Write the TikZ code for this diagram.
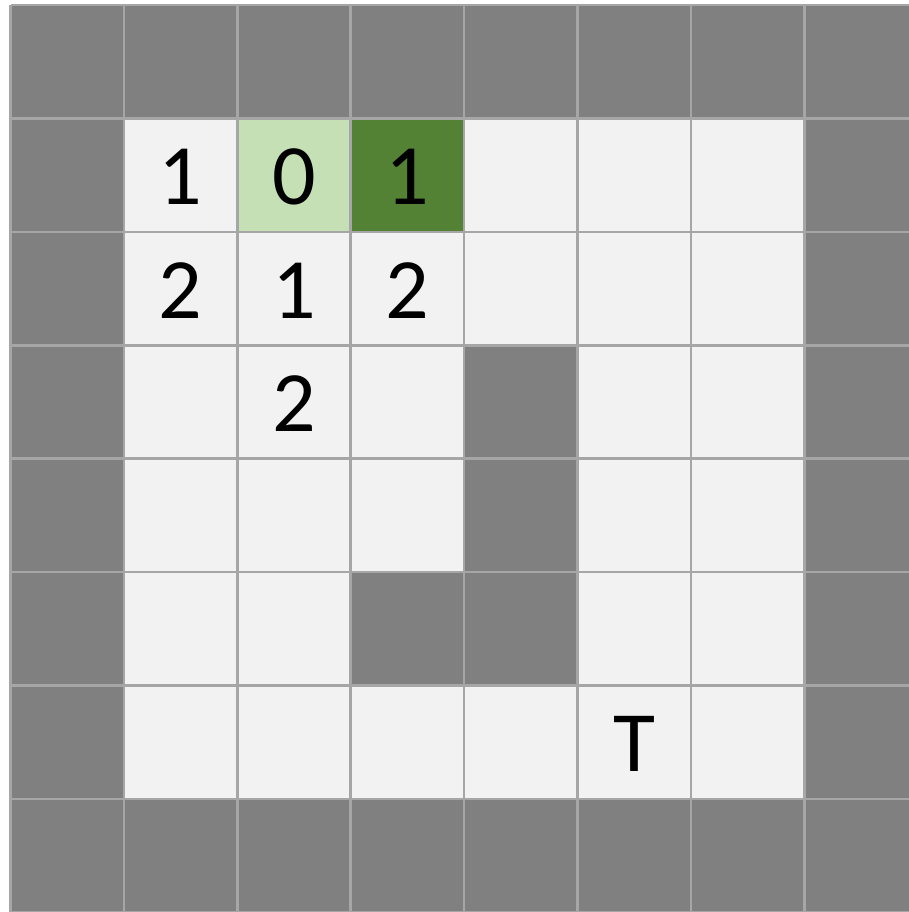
\documentclass[tikz,border=0pt]{standalone}
\usepackage{fontspec}
\setmainfont{Carlito}
\definecolor{wall}{HTML}{808080}
\definecolor{free}{HTML}{F2F2F2}
\definecolor{gridc}{HTML}{A6A6A6}
\definecolor{startc}{HTML}{C5E0B4}
\definecolor{curc}{HTML}{548235}
\begin{document}
\begin{tikzpicture}[x=1pt,y=-1pt,
  cellw/.store in=\cw,
  lbl/.style={anchor=base,font=\fontsize{86}{86}\selectfont,text=black,inner sep=0pt}]
\useasboundingbox (0,0) rectangle (908,912);
\def\cs{113.4}
\def\ox{10.5}
\def\oy{5}
% background walls
\fill[wall] (\ox,\oy) rectangle ({\ox+8*\cs},{\oy+8*\cs});
% free cells rows 1..6 cols 1..6
\fill[free] ({\ox+\cs},{\oy+\cs}) rectangle ({\ox+7*\cs},{\oy+7*\cs});
% inner walls
\foreach \r/\c in {3/4,4/4,5/3,5/4}{
  \fill[wall] ({\ox+\c*\cs},{\oy+\r*\cs}) rectangle ({\ox+(\c+1)*\cs},{\oy+(\r+1)*\cs});
}
\fill[startc] ({\ox+2*\cs},{\oy+\cs}) rectangle ({\ox+3*\cs},{\oy+2*\cs});
\fill[curc] ({\ox+3*\cs},{\oy+\cs}) rectangle ({\ox+4*\cs},{\oy+2*\cs});
% grid
\foreach \i in {0,...,8}{
  \draw[gridc,line width=2.6pt] ({\ox+\i*\cs},\oy) -- ({\ox+\i*\cs},{\oy+8*\cs});
  \draw[gridc,line width=2.6pt] (\ox,{\oy+\i*\cs}) -- ({\ox+8*\cs},{\oy+\i*\cs});
}
% labels
\foreach \r/\c/\t/\n in {1/1/1/a,1/2/0/b,1/3/1/c,2/1/2/d,2/2/1/e,2/3/2/f,3/2/2/g,6/5/T/h}{
  \node[lbl] (\n) at ({\ox+(\c+0.5)*\cs},{\oy+(\r+1)*\cs-27}) {\t};
}
\end{tikzpicture}
\end{document}
